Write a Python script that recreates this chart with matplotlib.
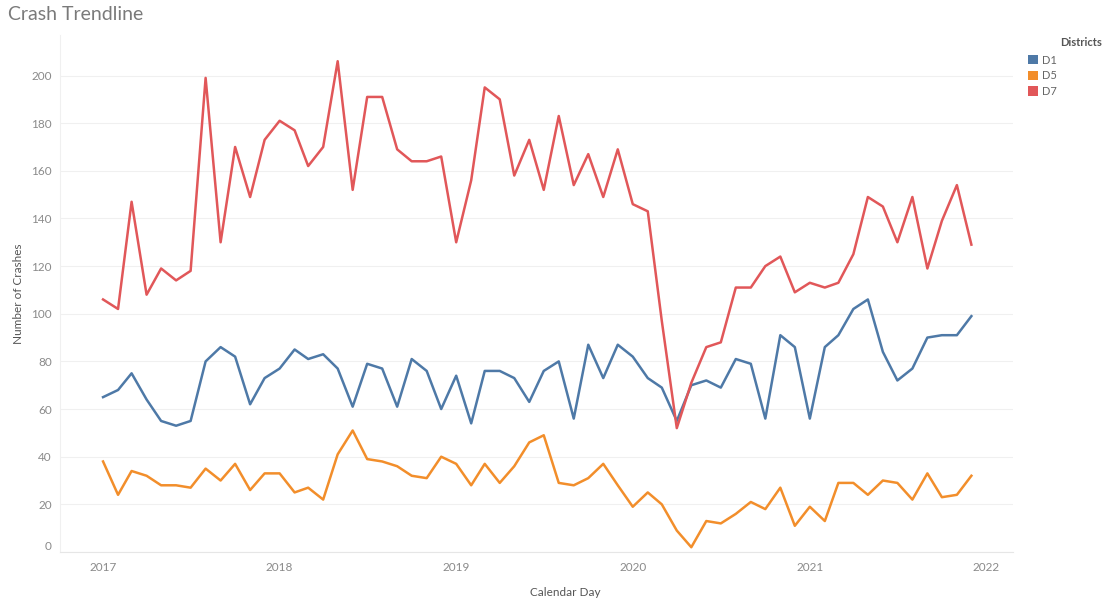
"""Crash trendline by district, monthly counts 2017-2021."""

import matplotlib
matplotlib.use("Agg")
import matplotlib.pyplot as plt
import matplotlib.dates as mdates
from matplotlib.patches import Patch
import pandas as pd

# monthly crash counts, Jan 2017 .. Dec 2021
months = pd.date_range("2017-01-01", periods=60, freq="MS")

d1 = [65, 68, 75, 64, 55, 53, 55, 80, 86, 82, 62, 73,
      77, 85, 81, 83, 77, 61, 79, 77, 61, 81, 76, 60,
      74, 54, 76, 76, 73, 63, 76, 80, 56, 87, 73, 87,
      82, 73, 69, 55, 70, 72, 69, 81, 79, 56, 91, 86,
      56, 86, 91, 102, 106, 84, 72, 77, 90, 91, 91, 99]

d5 = [38, 24, 34, 32, 28, 28, 27, 35, 30, 37, 26, 33,
      33, 25, 27, 22, 41, 51, 39, 38, 36, 32, 31, 40,
      37, 28, 37, 29, 36, 46, 49, 29, 28, 31, 37, 28,
      19, 25, 20, 9, 2, 13, 12, 16, 21, 18, 27, 11,
      19, 13, 29, 29, 24, 30, 29, 22, 33, 23, 24, 32]

d7 = [106, 102, 147, 108, 119, 114, 118, 199, 130, 170, 149, 173,
      181, 177, 162, 170, 206, 152, 191, 191, 169, 164, 164, 166,
      130, 156, 195, 190, 158, 173, 152, 183, 154, 167, 149, 169,
      146, 143, 97, 52, 71, 86, 88, 111, 111, 120, 124, 109,
      113, 111, 113, 125, 149, 145, 130, 149, 119, 139, 154, 129]

districts = ["D1", "D5", "D7"]
colors = ["#4e79a7", "#f28e2b", "#e15759"]
years = [2017, 2018, 2019, 2020, 2021, 2022]
yticks = list(range(0, 201, 20))

W, H = 1106, 598
fig = plt.figure(figsize=(W / 100, H / 100), dpi=100)
ax = fig.add_axes([60 / W, 1 - 552 / H, (1013 - 60) / W, (552 - 35) / H])

for vals, c in zip([d1, d5, d7], colors):
    ax.plot(months, vals, color=c, lw=1.8)

ax.set_xlim(pd.Timestamp("2016-10-04"), pd.Timestamp("2022-02-25"))
ax.set_ylim(0, 217)

ax.set_xticks([pd.Timestamp(f"{y}-01-01") for y in years])
ax.xaxis.set_major_formatter(mdates.DateFormatter("%Y"))
ax.set_yticks(yticks)

ax.grid(axis="y", color="#f0f0f0", lw=0.8)
ax.set_axisbelow(True)
for s in ["top", "right"]:
    ax.spines[s].set_visible(False)
ax.spines["left"].set_color("#f0f0f0")
ax.spines["bottom"].set_color("#e6e6e6")
ax.tick_params(length=0, labelsize=8.5, labelcolor="#8a8a8a")
ax.tick_params(axis="x", pad=7)
ax.tick_params(axis="y", pad=6)
for lab in ax.get_xticklabels() + ax.get_yticklabels():
    lab.set_family("Lato")
# tableau keeps the bottom label inside the pane
ax.get_yticklabels()[0].set_verticalalignment("bottom")

ax.set_xlabel("Calendar Day", fontsize=8.5, color="#555555", family="Lato")
ax.xaxis.set_label_coords(0.53, -0.068)
ax.set_ylabel("Number of Crashes", fontsize=8.5, color="#555555", family="Lato")
ax.yaxis.set_label_coords(-0.038, 0.5)

fig.text(8 / W, 1 - 15 / H, "Crash Trendline", fontsize=14, color="#7a7a7a",
         family="Lato", va="center", ha="left")

# legend
fig.text(1102 / W, 1 - 43 / H, "Districts", fontsize=8, color="#555555",
         family="Lato", weight="bold", va="center", ha="right")
handles = [Patch(facecolor=c, edgecolor="none") for c in colors]
leg = fig.legend(handles, districts, loc="upper left",
                 bbox_to_anchor=(1022 / W, 1 - 49 / H), frameon=False,
                 fontsize=8, handlelength=0.9, handleheight=0.9,
                 handletextpad=0.4, labelspacing=0.42, borderpad=0)
for t in leg.get_texts():
    t.set_color("#666666")
    t.set_family("Lato")

fig.savefig("out.png", dpi=100)
